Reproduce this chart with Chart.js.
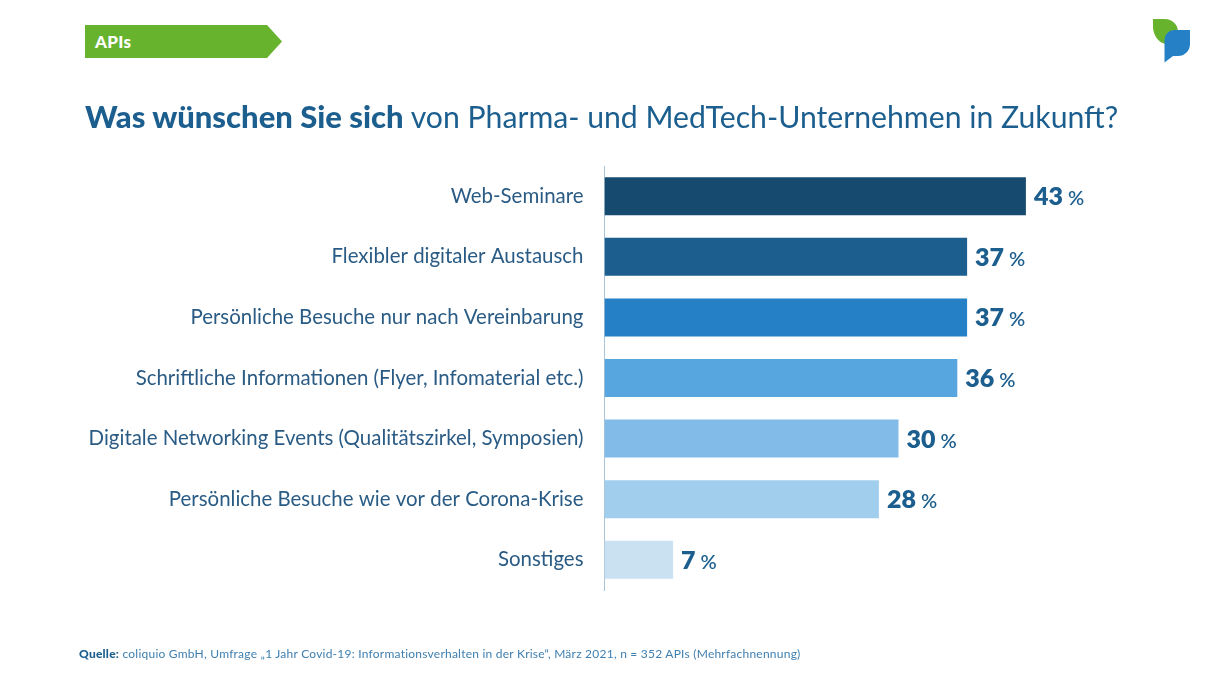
<!DOCTYPE html>
<html lang="de">
<head>
<meta charset="utf-8">
<title>APIs</title>
<script src="https://cdn.jsdelivr.net/npm/chart.js@4"></script>
<style>
html, body { margin: 0; padding: 0; background: #fff; }
#wrap { position: relative; width: 1210px; height: 680px; overflow: hidden; font-family: Lato, sans-serif; color: #1c5f8f; }
#grafica { position: absolute; left: 0; top: 0; }
.tag { position: absolute; left: 85px; top: 25px; width: 197px; height: 33px; background: #67b32e;
  clip-path: polygon(0 0, 182px 0, 197px 16.5px, 182px 33px, 0 33px); color: #fff; font: 900 17px/34px Lato, sans-serif; text-indent: 10px; letter-spacing: 0.3px; }
.titulo { position: absolute; left: 85px; top: 96px; font-size: 30.2px; line-height: 40px; white-space: nowrap; }
.titulo b { font-weight: 900; font-size: 31px; }
.fuente { position: absolute; left: 79px; top: 646px; font-size: 12px; line-height: 16px; white-space: nowrap; color: #3f7fb0; letter-spacing: 0.23px; }
.fuente b { color: #1c5f8f; font-weight: 900; }
.logo { position: absolute; left: 1150px; top: 15px; }
</style>
</head>
<body>
<div id="wrap">
  <canvas id="grafica" width="1210" height="680"></canvas>
  <div class="tag">APIs</div>
  <div class="titulo"><b>Was wünschen Sie sich</b> von Pharma- und MedTech-Unternehmen in Zukunft?</div>
  <div class="fuente"><b>Quelle:</b> coliquio GmbH, Umfrage „1 Jahr Covid-19: Informationsverhalten in der Krise“, März 2021, n = 352 APIs (Mehrfachnennung)</div>
  <svg class="logo" width="44" height="52" viewBox="0 0 44 52">
    <path d="M3 4 H15 A13 13 0 0 1 28 17 V29 H17 A14 19 0 0 1 3 13 Z" fill="#67b32e"/>
    <path d="M24 15 H40 V29 A12 12 0 0 1 28 41 H23 L14.5 47.5 V25 A10 10 0 0 1 24 15 Z" fill="#2580c5"/>
  </svg>
</div>
<script>
const categorias = [
    'Web-Seminare',
    'Flexibler digitaler Austausch',
    'Persönliche Besuche nur nach Vereinbarung',
    'Schriftliche Informationen (Flyer, Infomaterial etc.)',
    'Digitale Networking Events (Qualitätszirkel, Symposien)',
    'Persönliche Besuche wie vor der Corona-Krise',
    'Sonstiges'
];
const valores = [43, 37, 37, 36, 30, 28, 7];
const colores = ['#164a6f', '#1c5f8f', '#2580c5', '#58a6e0', '#82bbe8', '#a2ceee', '#cae1f2'];

// draws "43 %" next to each bar
const etiquetas = {
    id: 'etiquetas',
    afterDatasetsDraw(chart) {
        const ctx = chart.ctx;
        ctx.save();
        ctx.textBaseline = 'alphabetic';
        ctx.fillStyle = '#1c5f8f';
        chart.getDatasetMeta(0).data.forEach((bar, i) => {
            const num = String(valores[i]);
            const x = bar.x + 8;
            const y = bar.y + 9;
            ctx.font = '800 25px Lato';
            ctx.fillText(num, x, y);
            const w = ctx.measureText(num).width;
            ctx.font = '600 20px Lato';
            ctx.fillText('%', x + w + 5, y);
        });
        ctx.restore();
    }
};

const chart = new Chart(document.getElementById('grafica').getContext('2d'), {
    type: 'bar',
    data: {
        labels: categorias,
        datasets: [{
            data: valores,
            backgroundColor: colores,
            barPercentage: 0.627,
            categoryPercentage: 1
        }]
    },
    options: {
        indexAxis: 'y',
        responsive: false,
        animation: false,
        layout: { padding: { top: 166, bottom: 90, right: 17.5 } },
        plugins: { legend: { display: false }, tooltip: { enabled: false } },
        scales: {
            x: { display: false, min: 0, max: 60 },
            y: {
                afterFit(scale) { scale.width = 604.5; },
                grid: { display: false, drawTicks: false },
                border: { color: '#a9c4d9', width: 1 },
                ticks: { color: '#2a5b84', padding: 21, font: { family: 'Lato', size: 20.45 }, autoSkip: false }
            }
        }
    },
    plugins: [etiquetas]
});
</script>
</body>
</html>
